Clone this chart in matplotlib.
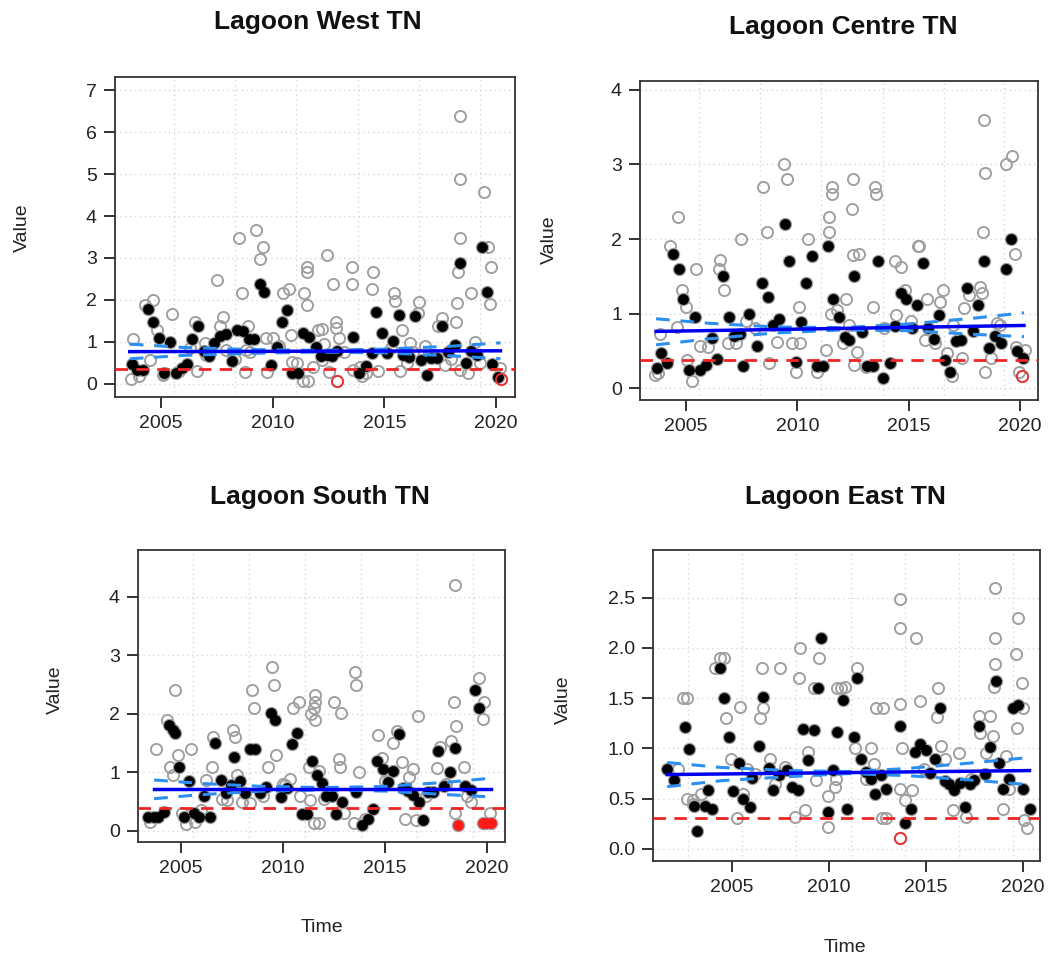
import matplotlib
matplotlib.use("Agg")
import matplotlib.pyplot as plt
import numpy as np

plt.rcParams['font.family'] = ['Liberation Sans', 'DejaVu Sans']

W, H = 1051, 965

# ---------------- Lagoon West TN ----------------
west_black_t = [2003.72, 2003.91, 2004.18, 2004.43, 2004.66, 2004.93, 2005.40, 2005.15, 2005.67, 2005.93,
                2006.15, 2006.40, 2006.64, 2006.94, 2007.16, 2007.39, 2007.64, 2007.89, 2008.16, 2008.42,
                2008.68, 2008.94, 2009.16, 2009.43, 2009.61, 2009.91, 2010.18, 2010.40, 2010.65, 2010.85,
                2011.15, 2011.37, 2011.64, 2011.92, 2012.16, 2012.41, 2012.64, 2012.86, 2013.61, 2013.87,
                2014.16, 2014.43, 2014.62, 2014.90, 2015.14, 2015.40, 2015.65, 2015.84, 2016.11, 2016.36,
                2016.62, 2016.89, 2017.11, 2017.36, 2017.60, 2017.86, 2018.15, 2018.38, 2018.65, 2018.87,
                2019.15, 2019.39, 2019.60, 2019.84, 2020.09]
west_black_v = [0.47, 0.33, 0.33, 1.79, 1.48, 1.10, 1.00, 0.25, 0.25, 0.37,
                0.48, 1.08, 1.38, 0.79, 0.67, 0.97, 1.14, 1.19, 0.54, 1.29,
                1.25, 1.08, 1.08, 2.39, 2.18, 0.46, 0.89, 1.48, 1.75, 0.27,
                0.27, 1.22, 1.13, 0.87, 0.67, 0.70, 0.67, 0.78, 1.13, 0.25,
                0.44, 0.73, 1.71, 1.22, 0.73, 1.03, 1.64, 0.69, 0.65, 1.61,
                0.57, 0.21, 0.63, 0.63, 1.38, 0.77, 0.93, 2.89, 0.49, 0.79,
                0.69, 3.27, 2.18, 0.48, 0.17]
west_grey_t = [2003.73, 2003.66, 2004.28, 2004.66, 2004.81, 2005.48, 2005.10, 2004.51, 2006.52, 2006.98,
               2007.49, 2007.79, 2007.64, 2008.51, 2009.25, 2009.58, 2009.43, 2008.64, 2008.91, 2009.68,
               2008.76, 2009.73, 2010.03, 2010.45, 2010.75, 2010.81, 2011.40, 2011.55, 2011.55, 2011.52,
               2012.44, 2012.71, 2012.83, 2012.83, 2012.23, 2011.34, 2011.60, 2013.53, 2013.53, 2014.50,
               2014.43, 2015.44, 2015.47, 2015.77, 2016.56, 2016.51, 2016.14, 2015.70, 2017.56, 2017.41,
               2018.20, 2018.26, 2018.38, 2018.38, 2018.38, 2018.30, 2018.86, 2019.05, 2019.45, 2019.64,
               2019.79, 2019.72, 2020.17, 2018.38, 2018.75, 2012.50, 2013.61, 2014.20, 2010.85, 2012.04,
               2012.19, 2004.00, 2005.80, 2006.30, 2007.00, 2007.90, 2008.30, 2009.00, 2010.30, 2011.80,
               2012.30, 2013.20, 2013.90, 2014.70, 2015.30, 2016.00, 2016.80, 2017.20, 2018.00, 2019.30,
               2006.60, 2008.80, 2011.10, 2012.95, 2014.00, 2016.30, 2017.70]
west_grey_v = [1.08, 0.13, 1.87, 2.00, 1.29, 1.67, 0.21, 0.57, 1.48, 0.98,
               2.48, 1.59, 1.37, 3.47, 3.67, 3.27, 2.97, 2.17, 1.37, 1.09,
               0.29, 0.29, 1.09, 2.17, 2.27, 1.17, 2.17, 2.79, 2.67, 1.87,
               3.07, 2.37, 1.48, 1.33, 1.30, 0.06, 0.06, 2.78, 2.37, 2.67,
               2.27, 2.17, 1.98, 1.29, 1.96, 1.68, 0.97, 0.32, 1.56, 1.37,
               1.48, 1.94, 6.38, 4.88, 3.48, 2.67, 2.17, 1.01, 4.57, 3.27,
               2.78, 1.90, 0.37, 0.33, 0.25, 0.29, 0.33, 0.25, 0.53, 1.29,
               0.57, 0.20, 0.30, 0.85, 0.70, 0.80, 0.60, 0.75, 0.90, 0.40,
               0.95, 0.75, 0.40, 0.30, 0.85, 0.50, 0.90, 0.70, 0.60, 0.50,
               0.30, 0.80, 0.50, 1.10, 0.20, 0.75, 0.45]
west_red_t = [2012.89, 2020.24]
west_red_v = [0.08, 0.11]
west_trend_t = [2003.6, 2020.2]
west_trend_v = [0.77, 0.79]
west_ci_t = [2003.6, 2006.0, 2009.0, 2012.0, 2015.0, 2018.0, 2020.2]
west_ci_up = [0.95, 0.87, 0.82, 0.80, 0.83, 0.90, 0.98]
west_ci_lo = [0.60, 0.68, 0.73, 0.76, 0.74, 0.67, 0.60]
west_limit = 0.35

# ---------------- Lagoon Centre TN ----------------
centre_black_t = [2003.71, 2003.86, 2004.16, 2004.43, 2004.66, 2004.88, 2005.40, 2005.15, 2005.63, 2005.88,
                  2006.15, 2006.41, 2006.68, 2006.93, 2007.16, 2007.40, 2007.57, 2007.83, 2008.17, 2008.41,
                  2008.67, 2008.92, 2009.19, 2009.45, 2009.63, 2009.94, 2010.15, 2010.39, 2010.64, 2010.90,
                  2011.17, 2011.39, 2011.62, 2011.89, 2012.14, 2012.34, 2012.54, 2012.89, 2013.11, 2013.41,
                  2013.61, 2013.83, 2014.16, 2014.39, 2014.64, 2014.88, 2015.15, 2015.39, 2015.63, 2015.88,
                  2016.14, 2016.38, 2016.63, 2016.86, 2017.11, 2017.35, 2017.60, 2017.87, 2018.10, 2018.38,
                  2018.62, 2018.88, 2019.13, 2019.37, 2019.60, 2019.85, 2020.12]
centre_black_v = [0.27, 0.47, 0.34, 1.80, 1.60, 1.19, 0.95, 0.24, 0.24, 0.31,
                  0.67, 0.39, 1.51, 0.95, 0.70, 0.73, 0.30, 1.00, 0.56, 1.41,
                  1.22, 0.85, 0.93, 2.20, 1.71, 0.35, 0.88, 1.41, 1.77, 0.30,
                  0.30, 1.90, 1.19, 0.95, 0.69, 0.65, 1.51, 0.75, 0.30, 0.30,
                  1.70, 0.13, 0.34, 0.83, 1.28, 1.19, 0.80, 1.12, 1.68, 0.80,
                  0.66, 0.98, 0.38, 0.21, 0.63, 0.65, 1.34, 0.76, 1.12, 1.70,
                  0.54, 0.70, 0.60, 1.60, 2.00, 0.50, 0.40]
centre_grey_t = [2004.63, 2004.28, 2004.81, 2005.00, 2004.58, 2003.83, 2003.61, 2005.25, 2005.06, 2005.45,
                 2005.63, 2006.53, 2006.50, 2006.71, 2007.47, 2007.25, 2008.44, 2008.62, 2008.73, 2009.40,
                 2009.55, 2009.75, 2010.06, 2009.94, 2010.13, 2010.49, 2010.87, 2011.28, 2011.40, 2011.44,
                 2011.54, 2011.54, 2011.50, 2012.19, 2012.07, 2012.49, 2012.46, 2012.51, 2012.78, 2012.66,
                 2012.54, 2013.49, 2013.53, 2013.41, 2014.39, 2014.64, 2014.43, 2014.84, 2015.43, 2015.48,
                 2015.81, 2015.73, 2016.53, 2016.41, 2016.71, 2016.95, 2017.48, 2017.71, 2018.20, 2018.31,
                 2018.40, 2018.43, 2018.35, 2018.43, 2018.68, 2018.95, 2019.37, 2019.63, 2019.78, 2020.22,
                 2019.97, 2006.00, 2006.90, 2007.70, 2008.10, 2009.10, 2011.80, 2012.30, 2013.10, 2013.90,
                 2015.10, 2016.20, 2017.00, 2017.40, 2019.10, 2019.80, 2003.75]
centre_grey_v = [2.30, 1.91, 1.32, 1.09, 0.82, 0.72, 0.18, 0.10, 0.38, 1.60,
                 0.56, 1.72, 1.60, 1.31, 2.00, 0.60, 2.70, 2.10, 0.33, 3.00,
                 2.80, 0.61, 1.09, 0.21, 0.61, 2.00, 0.21, 0.51, 2.30, 2.10,
                 2.70, 2.60, 1.00, 1.20, 0.60, 2.80, 2.40, 1.79, 1.80, 0.49,
                 0.31, 2.70, 2.60, 1.09, 1.70, 1.63, 0.98, 1.32, 1.91, 1.90,
                 1.19, 0.65, 1.32, 1.16, 0.47, 0.16, 1.07, 1.25, 1.36, 1.27,
                 3.60, 2.89, 2.10, 0.22, 0.41, 0.87, 3.00, 3.11, 1.80, 0.51,
                 0.22, 0.55, 0.60, 0.90, 0.80, 0.62, 1.05, 0.85, 0.28, 0.80,
                 0.90, 0.60, 0.85, 0.40, 0.85, 0.55, 0.20]
centre_red_t = [2020.07]
centre_red_v = [0.16]
centre_trend_t = [2003.65, 2020.18]
centre_trend_v = [0.76, 0.84]
centre_ci_t = [2003.65, 2006.0, 2009.0, 2012.0, 2015.0, 2018.0, 2020.18]
centre_ci_up = [0.93, 0.87, 0.82, 0.81, 0.86, 0.94, 1.01]
centre_ci_lo = [0.58, 0.66, 0.74, 0.78, 0.77, 0.72, 0.69]
centre_limit = 0.37

# ---------------- Lagoon South TN ----------------
south_black_t = [2003.40, 2003.65, 2003.89, 2004.17, 2004.43, 2004.62, 2004.70, 2004.92, 2005.15, 2005.41,
                 2005.65, 2005.90, 2006.14, 2006.42, 2006.66, 2006.94, 2007.20, 2007.43, 2007.62, 2007.88,
                 2008.13, 2008.37, 2008.61, 2008.89, 2009.15, 2009.40, 2009.63, 2009.92, 2010.17, 2010.42,
                 2010.66, 2010.91, 2011.15, 2011.40, 2011.65, 2011.89, 2012.13, 2012.38, 2012.59, 2012.87,
                 2013.60, 2013.86, 2014.14, 2014.39, 2014.62, 2014.88, 2015.16, 2015.41, 2015.69, 2015.90,
                 2016.14, 2016.39, 2016.67, 2016.88, 2017.13, 2017.37, 2017.62, 2017.90, 2018.16, 2018.44,
                 2018.94, 2019.19, 2019.43, 2019.63]
south_black_v = [0.23, 0.23, 0.23, 0.33, 1.81, 1.73, 1.68, 1.10, 0.23, 0.86,
                 0.31, 0.23, 0.59, 0.23, 1.50, 0.87, 0.64, 0.79, 1.26, 0.86,
                 0.64, 1.40, 1.40, 0.64, 0.75, 2.01, 1.90, 0.58, 0.73, 1.48,
                 1.68, 0.29, 0.29, 1.20, 0.96, 0.82, 0.60, 0.60, 0.29, 0.49,
                 0.66, 0.10, 0.20, 0.37, 1.19, 1.06, 0.83, 1.03, 1.65, 0.73,
                 0.69, 0.62, 0.49, 0.19, 0.66, 0.66, 1.36, 0.76, 1.00, 1.42,
                 0.76, 0.70, 2.40, 2.10]
south_grey_t = [2003.77, 2004.70, 2004.30, 2004.46, 2004.59, 2004.84, 2005.47, 2005.24, 2006.23, 2006.50,
                2006.59, 2007.54, 2007.63, 2007.73, 2007.24, 2008.47, 2008.60, 2008.38, 2009.26, 2009.45,
                2009.57, 2009.66, 2010.10, 2010.35, 2010.48, 2010.79, 2010.84, 2011.25, 2011.30, 2011.50,
                2011.55, 2011.58, 2011.37, 2011.55, 2011.50, 2011.74, 2011.74, 2012.48, 2012.84, 2012.73,
                2012.79, 2013.55, 2013.60, 2013.71, 2013.50, 2014.64, 2014.85, 2015.41, 2015.59, 2015.83,
                2016.16, 2016.37, 2016.60, 2016.54, 2017.55, 2017.68, 2018.21, 2018.40, 2018.49, 2018.45,
                2018.45, 2018.89, 2019.22, 2019.63, 2019.84, 2019.79, 2020.13, 2003.50, 2005.70, 2006.00,
                2007.00, 2008.00, 2009.00, 2010.00, 2012.00, 2013.00, 2014.00, 2015.00, 2016.00, 2017.00,
                2018.00, 2019.00, 2005.05]
south_grey_v = [1.40, 2.40, 1.90, 1.10, 0.96, 1.30, 1.40, 0.12, 0.87, 1.10,
                1.60, 1.72, 1.60, 0.96, 0.53, 2.40, 2.10, 0.47, 1.10, 2.80,
                2.50, 1.30, 0.79, 0.88, 2.10, 2.20, 0.60, 1.10, 0.52, 2.10,
                2.33, 2.20, 1.99, 1.90, 0.13, 0.14, 1.02, 2.20, 2.01, 1.22,
                1.10, 2.71, 2.50, 1.00, 0.13, 1.64, 1.24, 1.50, 1.70, 1.17,
                0.92, 1.06, 1.96, 0.19, 1.07, 1.44, 1.54, 2.20, 1.79, 4.21,
                0.30, 1.10, 0.50, 2.61, 2.20, 1.91, 0.30, 0.15, 0.15, 0.35,
                0.55, 0.50, 0.60, 0.80, 0.55, 0.30, 0.20, 0.85, 0.20, 0.60,
                0.80, 0.60, 0.30]
south_red_t = [2018.60, 2019.78, 2019.97, 2020.18]
south_red_v = [0.10, 0.14, 0.14, 0.14]
south_trend_t = [2003.68, 2020.2]
south_trend_v = [0.72, 0.72]
south_ci_t = [2003.68, 2006.0, 2009.0, 2012.0, 2015.0, 2018.0, 2020.2]
south_ci_up = [0.87, 0.81, 0.76, 0.74, 0.76, 0.83, 0.90]
south_ci_lo = [0.55, 0.62, 0.68, 0.70, 0.68, 0.62, 0.58]
south_limit = 0.39

# ---------------- Lagoon East TN ----------------
east_black_t = [2001.66, 2002.00, 2002.57, 2002.80, 2003.06, 2003.21, 2003.61, 2003.79, 2003.99, 2004.36,
                2004.60, 2004.83, 2005.05, 2005.35, 2005.57, 2005.92, 2006.04, 2006.40, 2006.61, 2006.91,
                2007.13, 2007.43, 2007.83, 2008.07, 2008.41, 2008.64, 2008.93, 2009.21, 2009.45, 2009.59,
                2009.94, 2010.20, 2010.42, 2010.72, 2010.93, 2011.29, 2011.46, 2011.67, 2011.93, 2012.16,
                2012.37, 2012.68, 2012.92, 2013.67, 2013.93, 2014.24, 2014.45, 2014.71, 2015.00, 2015.23,
                2015.49, 2015.75, 2015.97, 2016.21, 2016.47, 2016.75, 2017.01, 2017.25, 2017.48, 2017.74,
                2018.03, 2018.29, 2018.61, 2018.78, 2018.99, 2019.26, 2019.51, 2019.73, 2019.99, 2020.34]
east_black_v = [0.80, 0.69, 1.21, 0.99, 0.43, 0.18, 0.43, 0.59, 0.40, 1.80,
                1.50, 1.11, 0.58, 0.86, 0.50, 0.42, 0.71, 1.02, 1.51, 0.81,
                0.59, 0.74, 0.79, 0.62, 0.59, 1.19, 0.89, 1.18, 1.60, 2.10,
                0.37, 0.79, 1.16, 1.48, 0.40, 1.11, 1.70, 0.90, 0.77, 0.70,
                0.55, 0.74, 0.60, 1.22, 0.26, 0.40, 0.96, 1.04, 0.98, 0.76,
                0.90, 1.40, 0.68, 0.65, 0.59, 0.66, 0.42, 0.65, 0.69, 1.22,
                0.75, 1.01, 1.67, 0.86, 0.60, 0.70, 1.40, 1.43, 0.60, 0.40]
east_grey_t = [2002.49, 2002.70, 2002.66, 2002.97, 2004.13, 2004.36, 2004.60, 2004.71, 2004.95, 2005.43,
               2005.57, 2005.26, 2006.47, 2006.61, 2006.56, 2006.96, 2007.48, 2007.72, 2008.24, 2008.52,
               2008.47, 2008.77, 2008.90, 2009.21, 2009.51, 2009.33, 2009.94, 2009.97, 2010.29, 2010.37,
               2010.42, 2010.64, 2010.81, 2011.46, 2011.33, 2012.16, 2012.45, 2012.80, 2012.71, 2012.93,
               2013.67, 2013.67, 2013.67, 2013.79, 2013.67, 2013.93, 2014.27, 2014.47, 2014.71, 2015.62,
               2015.57, 2015.80, 2016.39, 2016.71, 2017.05, 2017.74, 2017.77, 2018.29, 2018.47, 2018.57,
               2018.57, 2018.57, 2018.52, 2018.99, 2019.12, 2019.73, 2019.64, 2019.93, 2019.99, 2019.69,
               2020.07, 2020.21, 2002.20, 2003.40, 2005.80, 2007.20, 2011.90, 2012.30, 2014.90, 2016.00,
               2017.30, 2018.10, 2019.30, 2003.00, 2006.20]
east_grey_v = [1.50, 1.50, 0.50, 0.49, 1.80, 1.90, 1.90, 1.30, 0.90, 1.41,
               0.55, 0.31, 1.30, 1.40, 1.80, 0.90, 1.80, 0.82, 0.32, 2.00,
               1.70, 0.39, 0.96, 1.60, 1.90, 0.69, 0.22, 0.53, 0.62, 0.70,
               1.60, 1.60, 1.61, 1.80, 1.00, 1.00, 1.40, 1.40, 0.31, 0.31,
               2.49, 2.20, 1.44, 1.00, 0.60, 0.49, 0.59, 2.10, 1.47, 1.60,
               1.31, 1.02, 0.39, 0.95, 0.32, 1.32, 1.15, 1.32, 1.12, 2.60,
               2.10, 1.84, 1.61, 0.40, 0.92, 2.30, 1.94, 1.65, 1.40, 1.20,
               0.29, 0.21, 0.80, 0.55, 0.80, 0.65, 0.70, 0.85, 0.80, 0.90,
               0.70, 0.95, 0.60, 0.45, 0.75]
east_red_t = [2013.67]
east_red_v = [0.11]
east_trend_t = [2001.66, 2020.34]
east_trend_v = [0.74, 0.78]
east_ci_t = [2001.66, 2004.5, 2008.0, 2011.0, 2014.0, 2017.0, 2020.34]
east_ci_up = [0.86, 0.81, 0.78, 0.77, 0.80, 0.85, 0.91]
east_ci_lo = [0.62, 0.68, 0.72, 0.75, 0.73, 0.69, 0.64]
east_limit = 0.31

# ---------------- drawing ----------------
GREY = '#A0A0A0'
BLUE = '#0000EE'
LBLUE = '#2C8FEF'
RED = '#EE2626'

panels = [
    dict(title='Lagoon West TN', box=(115, 515, 77, 397), xlim=(2002.94, 2020.85), ylim=(-0.31, 7.31),
         yticks=[0, 1, 2, 3, 4, 5, 6, 7], ylabels=['0', '1', '2', '3', '4', '5', '6', '7'],
         vgrid=[2005.57, 2008.31, 2011.06, 2013.84, 2016.57, 2019.30],
         bt=west_black_t, bv=west_black_v, gt=west_grey_t, gv=west_grey_v, rt=west_red_t, rv=west_red_v,
         red_filled=False, tt=west_trend_t, tv=west_trend_v, ct=west_ci_t, cu=west_ci_up, cl=west_ci_lo,
         lim=west_limit, title_xy=(318, 22), ylab_xy=(22, 228), xlab=None),
    dict(title='Lagoon Centre TN', box=(640, 1038, 81, 400), xlim=(2002.93, 2020.81), ylim=(-0.16, 4.12),
         yticks=[0, 1, 2, 3, 4], ylabels=['0', '1', '2', '3', '4'],
         vgrid=[2005.57, 2008.31, 2011.06, 2013.84, 2016.57, 2019.30],
         bt=centre_black_t, bv=centre_black_v, gt=centre_grey_t, gv=centre_grey_v, rt=centre_red_t,
         rv=centre_red_v, red_filled=False, tt=centre_trend_t, tv=centre_trend_v, ct=centre_ci_t,
         cu=centre_ci_up, cl=centre_ci_lo, lim=centre_limit, title_xy=(843, 27), ylab_xy=(549, 240), xlab=None),
    dict(title='Lagoon South TN', box=(138, 505, 550, 842), xlim=(2002.89, 2020.88), ylim=(-0.19, 4.80),
         yticks=[0, 1, 2, 3, 4], ylabels=['0', '1', '2', '3', '4'],
         vgrid=[2005.57, 2008.31, 2011.06, 2013.84, 2016.57, 2019.30],
         bt=south_black_t, bv=south_black_v, gt=south_grey_t, gv=south_grey_v, rt=south_red_t,
         rv=south_red_v, red_filled=True, tt=south_trend_t, tv=south_trend_v, ct=south_ci_t,
         cu=south_ci_up, cl=south_ci_lo, lim=south_limit, title_xy=(320, 497), ylab_xy=(55, 690),
         xlab=(322, 928)),
    dict(title='Lagoon East TN', box=(653, 1040, 550, 861), xlim=(2000.93, 2020.88), ylim=(-0.12, 2.975),
         yticks=[0.0, 0.5, 1.0, 1.5, 2.0, 2.5], ylabels=['0.0', '0.5', '1.0', '1.5', '2.0', '2.5'],
         vgrid=[2002.74, 2005.52, 2008.30, 2011.16, 2013.94, 2016.72, 2019.50],
         bt=east_black_t, bv=east_black_v, gt=east_grey_t, gv=east_grey_v, rt=east_red_t, rv=east_red_v,
         red_filled=False, tt=east_trend_t, tv=east_trend_v, ct=east_ci_t, cu=east_ci_up, cl=east_ci_lo,
         lim=east_limit, title_xy=(845, 497), ylab_xy=(563, 700), xlab=(845, 948)),
]

xticks = [2005, 2010, 2015, 2020]
xticklabels = ['2005', '2010', '2015', '2020']

fig = plt.figure(figsize=(W / 100, H / 100), dpi=100)

for p in panels:
    l, r, t, b = p['box']
    ax = fig.add_axes([l / W, 1 - b / H, (r - l) / W, (b - t) / H])
    ax.set_xlim(*p['xlim'])
    ax.set_ylim(*p['ylim'])
    # grid
    for yv in p['yticks']:
        ax.axhline(yv, color='#D6D6D6', lw=1.0, ls=(0, (1, 2.5)), zorder=0)
    for xv in p['vgrid']:
        ax.axvline(xv, color='#D6D6D6', lw=1.0, ls=(0, (1, 2.5)), zorder=0)
    # all samples as grey circles
    ax.plot(p['gt'], p['gv'], 'o', ms=8, mfc='none', mec=GREY, mew=1.4, zorder=2)
    ax.plot(p['bt'], p['bv'], 'o', ms=8.2, mfc='none', mec=GREY, mew=1.4, zorder=2)
    ax.plot(p['rt'], p['rv'], 'o', ms=8.2, mfc='none', mec=GREY, mew=1.4, zorder=2)
    # black points
    ax.plot(p['bt'], p['bv'], 'o', ms=7.8, mfc='black', mec='black', mew=0, zorder=3)
    # red points
    if p['red_filled']:
        ax.plot(p['rt'], p['rv'], 'o', ms=7.8, mfc='#FF1A1A', mec='#FF1A1A', mew=0, zorder=3)
    else:
        ax.plot(p['rt'], p['rv'], 'o', ms=8, mfc='none', mec='#F03030', mew=1.3, zorder=3)
    # lines
    ax.axhline(p['lim'], color=RED, lw=2.0, ls=(0, (4.5, 3)), zorder=4)
    ax.plot(p['ct'], p['cu'], color=LBLUE, lw=2.2, ls=(0, (4.5, 3.5)), zorder=4)
    ax.plot(p['ct'], p['cl'], color=LBLUE, lw=2.2, ls=(0, (4.5, 3.5)), zorder=4)
    ax.plot(p['tt'], p['tv'], color=BLUE, lw=2.5, zorder=5)

    ax.set_xticks(xticks)
    ax.set_xticklabels(xticklabels)
    ax.set_yticks(p['yticks'])
    ax.set_yticklabels(p['ylabels'])
    ax.tick_params(axis='both', direction='out', length=8, width=1.3, labelsize=14,
                   colors='#222222', pad=5)
    for s in ax.spines.values():
        s.set_linewidth(1.3)
        s.set_color('#333333')

    fig.text(p['title_xy'][0] / W, 1 - p['title_xy'][1] / H, p['title'], ha='center', va='center',
             fontsize=19, fontweight='bold', color='#111111')
    fig.text(p['ylab_xy'][0] / W, 1 - p['ylab_xy'][1] / H, 'Value', ha='center', va='center',
             rotation=90, fontsize=14, color='#222222')
    if p['xlab'] is not None:
        fig.text(p['xlab'][0] / W, 1 - p['xlab'][1] / H, 'Time', ha='center', va='center',
                 fontsize=14, color='#222222')

fig.savefig('out.png', dpi=100, facecolor='white')
